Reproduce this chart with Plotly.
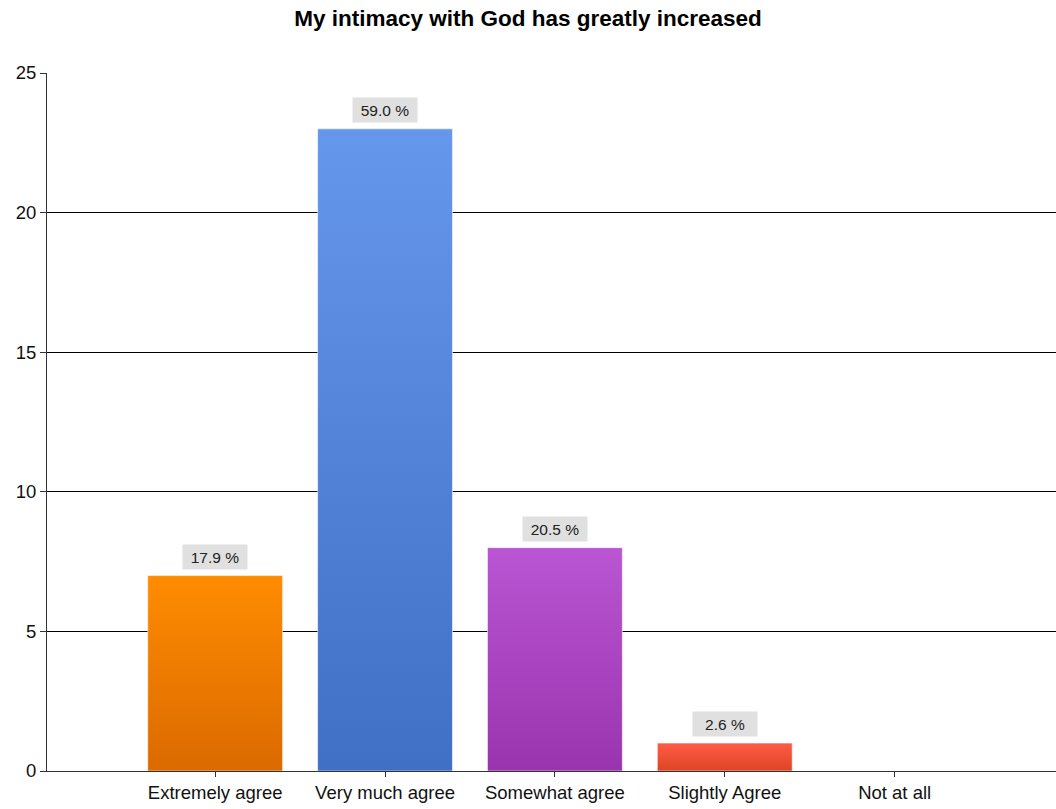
import plotly.graph_objects as go

categories = ["Extremely agree", "Very much agree", "Somewhat agree", "Slightly Agree", "Not at all"]
counts = [7, 23, 8, 1, 0]
percents = ["17.9 %", "59.0 %", "20.5 %", "2.6 %", ""]
top_colors = ["#FF8C00", "#6597EC", "#BA55D3", "#FF5C45"]
bottom_colors = ["#DB6A00", "#406FC6", "#9A34AE", "#DE4426"]

half = 0.397  # half bar width, in category units
font_family = "Liberation Sans, Arial, sans-serif"

fig = go.Figure()

for i, v in enumerate(counts):
    if v <= 0:
        continue
    fig.add_trace(go.Scatter(
        x=[i - half, i + half, i + half, i - half, i - half],
        y=[0, 0, v, v, 0],
        mode="lines",
        fill="toself",
        fillgradient=dict(
            type="vertical",
            colorscale=[[0, bottom_colors[i]], [1, top_colors[i]]],
        ),
        line=dict(color="rgba(255,255,255,0.55)", width=1),
        hoveron="fills",
        name=categories[i],
        text=f"{categories[i]}: {v}",
        hoverinfo="text",
        showlegend=False,
    ))
    fig.add_annotation(
        x=i, y=v, text=percents[i],
        showarrow=False, yanchor="bottom", yshift=6,
        width=58, height=18,
        bgcolor="#E0E0E0", borderpad=3,
        font=dict(family=font_family, size=15.5, color="#222222"),
    )

fig.update_layout(
    width=1056, height=809,
    margin=dict(l=47, r=0, t=73, b=38),
    paper_bgcolor="white", plot_bgcolor="white",
    title=dict(
        text="<b>My intimacy with God has greatly increased</b>",
        x=0.5, xanchor="center", y=0.978, yanchor="middle",
        font=dict(family=font_family, size=22.5, color="black"),
    ),
    font=dict(family=font_family, size=18.5, color="#111111"),
)

fig.update_xaxes(
    range=[-0.99, 4.95],
    tickmode="array", tickvals=list(range(len(categories))), ticktext=categories,
    showgrid=False, zeroline=False,
    showline=True, linecolor="#333333", linewidth=1,
    ticks="outside", ticklen=5, tickcolor="#333333",
    fixedrange=True,
)
fig.update_yaxes(
    range=[0, 25], tickvals=[0, 5, 10, 15, 20, 25],
    showgrid=True, gridcolor="black", gridwidth=1,
    zeroline=False,
    showline=True, linecolor="#333333", linewidth=1,
    ticks="outside", ticklen=6, tickcolor="#333333",
    fixedrange=True,
)

fig.write_html(
    "out.html",
    config={"displayModeBar": False},
    post_script="document.body.style.margin = '0';",
)
